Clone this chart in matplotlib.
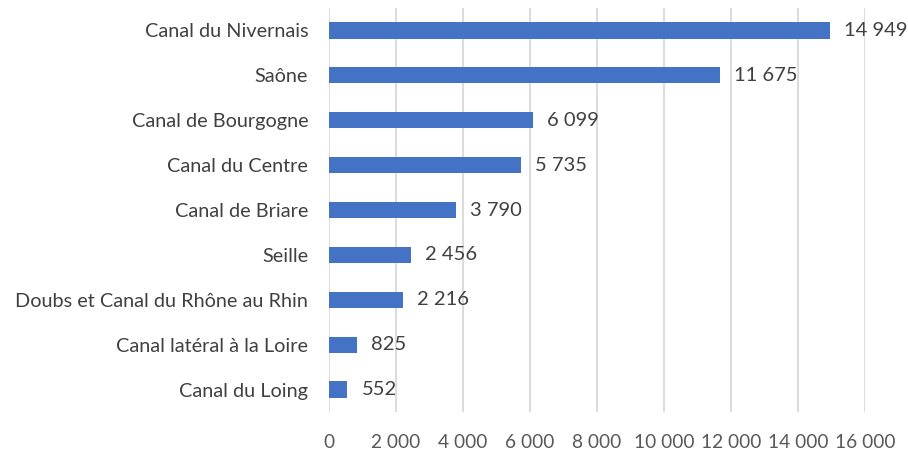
import matplotlib
matplotlib.use("Agg")
import matplotlib.pyplot as plt
from matplotlib.ticker import FuncFormatter

categories = ["Canal du Nivernais", "Saône", "Canal de Bourgogne", "Canal du Centre",
              "Canal de Briare", "Seille", "Doubs et Canal du Rhône au Rhin",
              "Canal latéral à la Loire", "Canal du Loing"]
values = [14949, 11675, 6099, 5735, 3790, 2456, 2216, 825, 552]
xticks = [0, 2000, 4000, 6000, 8000, 10000, 12000, 14000, 16000]

def fmt(v):
    return f"{int(v):,}".replace(",", " ")

plt.rcParams['font.family'] = ['Lato', 'DejaVu Sans']
fig = plt.figure(figsize=(9.08, 4.53), dpi=100)
ax = fig.add_axes([0.3623, 0.0905, 0.5903, 0.8918])

y = list(range(len(categories)))
ax.barh(y, values, height=0.36, color="#4472C4", zorder=3)
for yi, v in zip(y, values):
    ax.text(v + 420, yi, fmt(v), va="center", ha="left", fontsize=14.5, color="#404040")

ax.set_yticks(y)
ax.set_yticklabels(categories, fontsize=14.3, color="#404040")
ax.set_ylim(len(categories) - 0.5, -0.5)
ax.set_xlim(0, 16000)
ax.set_xticks(xticks)
ax.xaxis.set_major_formatter(FuncFormatter(lambda v, p: fmt(v)))
ax.tick_params(axis="x", labelsize=13.8, colors="#595959", length=0, pad=16)
ax.tick_params(axis="y", length=0, pad=15)
ax.grid(axis="x", color="#d9d9d9", linewidth=1.3, zorder=0)
for s in ax.spines.values():
    s.set_visible(False)

fig.savefig("out.png", dpi=100)
